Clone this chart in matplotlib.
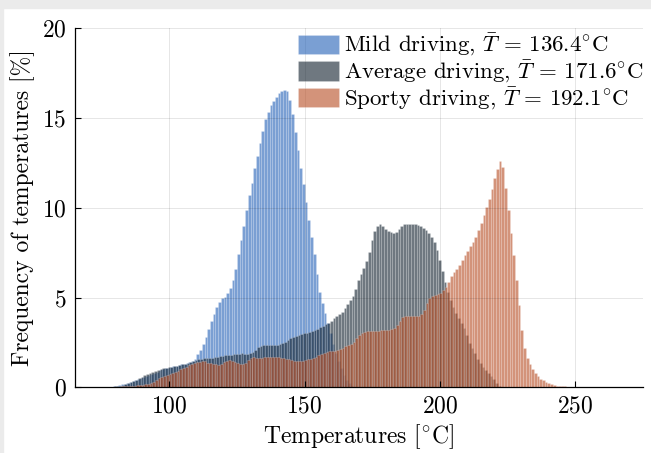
import numpy as np
import matplotlib.pyplot as plt
from matplotlib.colors import to_rgba
from matplotlib.patches import Rectangle

plt.rcParams['font.family'] = ['cmr10', 'DejaVu Serif']
plt.rcParams['mathtext.fontset'] = 'cm'
plt.rcParams['axes.formatter.use_mathtext'] = True

# histogram values [%], one per 1 degC bin, first bin edge given by *_start
mild_start = 78.0
mild = [
    0.03, 0.07, 0.10, 0.13, 0.17, 0.21, 0.25, 0.30, 0.35, 0.41,   # 78-87
    0.47, 0.53, 0.58, 0.64, 0.70, 0.76, 0.82, 0.88, 0.94, 1.00,   # 88-97
    1.05, 1.09, 1.13, 1.17, 1.21, 1.25, 1.28, 1.31, 1.35, 1.40,   # 98-107
    1.48, 1.60, 1.85, 2.10, 2.40, 2.80, 3.25, 3.70, 4.10, 4.50,   # 108-117
    4.78, 4.95, 5.05, 5.25, 5.55, 6.00, 6.60, 7.40, 8.20, 9.00,   # 118-127
    9.90, 10.7, 11.4, 12.2, 12.9, 13.6, 14.3, 14.95, 15.35, 15.7,  # 128-137
    15.95, 16.2, 16.38, 16.48, 16.58, 16.52, 16.0, 15.2, 14.2, 13.2,  # 138-147
    12.2, 11.3, 10.3, 9.3, 8.4, 7.4, 6.3, 5.3, 4.7, 4.15,          # 148-157
    3.6, 3.0, 2.4, 1.9, 1.45, 1.05, 0.70, 0.42, 0.22, 0.10,        # 158-167
    0.04,                                                          # 168
]

avg_start = 79.35
average = [
    0.05, 0.08, 0.10, 0.14, 0.18, 0.22, 0.28, 0.35, 0.42, 0.50,   # 79-88
    0.58, 0.66, 0.73, 0.80, 0.87, 0.93, 0.98, 1.02, 1.06, 1.09,   # 89-98
    1.11, 1.13, 1.17, 1.20, 1.24, 1.28, 1.32, 1.36, 1.40, 1.45,   # 99-108
    1.50, 1.55, 1.60, 1.62, 1.63, 1.65, 1.66, 1.68, 1.70, 1.73,   # 109-118
    1.76, 1.78, 1.80, 1.82, 1.84, 1.86, 1.88, 1.90, 1.88, 1.85,   # 119-128
    1.90, 1.95, 2.10, 2.25, 2.30, 2.33, 2.34, 2.35, 2.35, 2.36,   # 129-138
    2.38, 2.40, 2.45, 2.55, 2.65, 2.75, 2.80, 2.85, 2.90, 2.95,   # 139-148
    3.00, 3.05, 3.10, 3.15, 3.20, 3.27, 3.35, 3.42, 3.50, 3.60,   # 149-158
    3.70, 3.85, 4.00, 4.10, 4.20, 4.40, 4.65, 4.85, 5.10, 5.45,   # 159-168
    6.00, 6.30, 6.65, 7.05, 7.55, 8.20, 8.70, 9.00, 9.08, 8.97,   # 169-178
    8.84, 8.70, 8.65, 8.60, 8.65, 8.84, 9.00, 9.08, 9.12, 9.12,   # 179-188
    9.10, 9.08, 9.02, 8.97, 8.90, 8.75, 8.60, 8.37, 8.10, 7.63,   # 189-198
    7.07, 6.48, 5.87, 5.30, 4.85, 4.45, 4.15, 3.85, 3.60, 3.30,   # 199-208
    2.90, 2.45, 2.20, 1.90, 1.60, 1.35, 1.15, 0.95, 0.80, 0.62,   # 209-218
    0.45, 0.25, 0.10, 0.03,                                        # 219-222
]

sporty_start = 78.7
sporty = [
    0.02, 0.03, 0.04, 0.05, 0.06, 0.07, 0.08, 0.09, 0.10, 0.11,   # 79-88
    0.12, 0.14, 0.16, 0.19, 0.24, 0.32, 0.42, 0.52, 0.58, 0.62,   # 89-98
    0.67, 0.72, 0.78, 0.84, 0.92, 1.00, 1.08, 1.15, 1.22, 1.30,   # 99-108
    1.37, 1.40, 1.42, 1.45, 1.44, 1.38, 1.34, 1.32, 1.28, 1.26,   # 109-118
    1.32, 1.40, 1.47, 1.50, 1.48, 1.42, 1.35, 1.30, 1.28, 1.35,   # 119-128
    1.50, 1.62, 1.67, 1.65, 1.64, 1.65, 1.67, 1.69, 1.69, 1.68,   # 129-138
    1.68, 1.67, 1.65, 1.62, 1.60, 1.55, 1.50, 1.46, 1.45, 1.46,   # 139-148
    1.48, 1.52, 1.56, 1.60, 1.65, 1.70, 1.78, 1.86, 1.93, 1.97,   # 149-158
    2.00, 2.02, 2.05, 2.08, 2.12, 2.20, 2.28, 2.35, 2.42, 2.55,   # 159-168
    2.75, 2.90, 3.02, 3.08, 3.12, 3.13, 3.14, 3.15, 3.16, 3.18,   # 169-178
    3.19, 3.20, 3.22, 3.25, 3.30, 3.45, 3.72, 3.90, 3.95, 3.96,   # 179-188
    3.96, 3.96, 3.97, 4.00, 4.10, 4.30, 4.70, 4.98, 5.08, 5.12,   # 189-198
    5.18, 5.28, 5.40, 5.60, 5.87, 6.18, 6.40, 6.60, 6.83, 7.10,   # 199-208
    7.35, 7.60, 7.85, 8.10, 8.37, 8.75, 9.15, 9.58, 10.05, 10.5,  # 209-218
    11.07, 11.68, 12.18, 12.6, 12.3, 11.1, 9.9, 8.6, 7.35, 6.0,   # 219-228
    4.6, 3.2, 2.2, 1.65, 1.30, 1.02, 0.80, 0.62, 0.48, 0.38,      # 229-238
    0.28, 0.22, 0.17, 0.13, 0.10, 0.08, 0.06, 0.05, 0.04, 0.03,   # 239-248
    0.02, 0.01,                                                    # 249-250
]

labels = [r'Mild driving, $\bar{T}\,=\,136.4^{\circ}$C',
          r'Average driving, $\bar{T}\,=\,171.6^{\circ}$C',
          r'Sporty driving, $\bar{T}\,=\,192.1^{\circ}$C']
colors = ['#215fb7', '#0f1e2b', '#b74b21']

fig = plt.figure(figsize=(6.51, 4.53), dpi=100)
ax = fig.add_axes([0.1147, 0.145, 0.873, 0.7925])

series = [(mild_start, mild), (avg_start, average), (sporty_start, sporty)]
for (start, vals), col, lab in zip(series, colors, labels):
    edges = start + np.arange(len(vals))
    ax.bar(edges, vals, width=1.0, align='edge', color=to_rgba(col, 0.6),
           edgecolor=(1, 1, 1, 0.3), linewidth=0.4, label=lab)

ax.set_xlim(65, 275)
ax.set_ylim(0, 20)
ax.set_xticks([100, 150, 200, 250])
ax.set_yticks([0, 5, 10, 15, 20])
ax.set_axisbelow(False)
ax.grid(True, color='black', alpha=0.1, linewidth=0.7)
for s in ['top', 'right']:
    ax.spines[s].set_visible(False)
for s in ['left', 'bottom']:
    ax.spines[s].set_linewidth(0.9)
ax.tick_params(direction='in', length=4, width=0.8, labelsize=17, pad=6)

ax.set_xlabel(r'Temperatures [$^{\circ}$C]', fontsize=17, labelpad=3)
ax.set_ylabel('Frequency of temperatures [%]', fontsize=17, labelpad=5)

ax.legend(loc='upper left', bbox_to_anchor=(298 / 651, 1 - 32 / 453),
          bbox_transform=fig.transFigure, frameon=False, fontsize=16.5,
          borderpad=0, borderaxespad=0, handlelength=1.8, handleheight=0.9,
          handletextpad=0.2, labelspacing=0.02)

# grey screenshot border
fig.patches.append(Rectangle((0, 1 - 8 / 453), 1, 8 / 453, transform=fig.transFigure,
                             color='#ebebeb', zorder=-1))
fig.patches.append(Rectangle((0, 0), 3 / 651, 1, transform=fig.transFigure,
                             color='#ebebeb', zorder=-1))

fig.savefig('out.png', dpi=100)
